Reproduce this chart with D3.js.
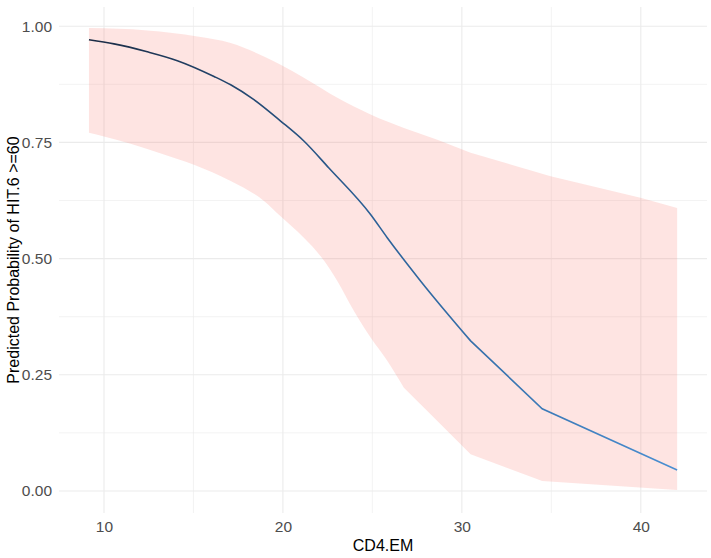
<!DOCTYPE html>
<html><head><meta charset="utf-8">
<script src="https://cdn.jsdelivr.net/npm/d3@7"></script>
<style>body{margin:0;background:#fff;}svg{display:block;font-family:"Liberation Sans",Arial,sans-serif;}</style>
</head><body><svg id="c" width="711" height="558"></svg>
<script>
// Data
const fitX = [9.16,10.56,12.42,14.10,16.15,17.08,18.38,19.87,21.17,22.57,24.90,25.83,27.69,30.49,34.49,42.03];
const fitY = [0.971,0.962,0.945,0.926,0.892,0.874,0.842,0.796,0.753,0.695,0.595,0.545,0.452,0.323,0.177,0.045];
const upperX = [9.16,12.42,15.22,17.08,18.94,19.87,21.17,23.04,24.90,26.76,28.63,30.49,34.96,39.98,42.03];
const upperY = [0.996,0.991,0.978,0.964,0.935,0.917,0.889,0.846,0.810,0.781,0.756,0.728,0.677,0.631,0.609];
const lowerX = [9.16,10.0,11.49,13.35,15.03,17.08,18.94,19.87,21.17,22.11,23.04,23.97,24.90,25.83,26.76,28.25,30.49,34.49,42.03];
const lowerY = [0.771,0.763,0.747,0.724,0.702,0.667,0.624,0.591,0.545,0.505,0.452,0.387,0.330,0.280,0.222,0.165,0.079,0.0215,0.002];
const xTicks = [10,20,30,40];
const xMinor = [15,25,35];
const yTicks = [0,0.25,0.5,0.75,1];
const yMinor = [0.125,0.375,0.625,0.875];
const xTitle = "CD4.EM";
const yTitle = "Predicted Probability of HIT.6 >=60";

const svg = d3.select("#c");
const P = {l:59, r:707, t:7, b:513};
const x = d3.scaleLinear().domain([7.486,43.70]).range([P.l,P.r]);
const y = d3.scaleLinear().domain([-0.0474,1.0414]).range([P.b,P.t]);

const g = svg.append("g");
g.selectAll(".vmin").data(xMinor).join("line").attr("x1",d=>x(d)).attr("x2",d=>x(d)).attr("y1",P.t).attr("y2",P.b).attr("stroke","#EBEBEB").attr("stroke-width",0.6);
g.selectAll(".hmin").data(yMinor).join("line").attr("y1",d=>y(d)).attr("y2",d=>y(d)).attr("x1",P.l).attr("x2",P.r).attr("stroke","#EBEBEB").attr("stroke-width",0.6);
g.selectAll(".vmaj").data(xTicks).join("line").attr("x1",d=>x(d)).attr("x2",d=>x(d)).attr("y1",P.t).attr("y2",P.b).attr("stroke","#EBEBEB").attr("stroke-width",1.1);
g.selectAll(".hmaj").data(yTicks).join("line").attr("y1",d=>y(d)).attr("y2",d=>y(d)).attr("x1",P.l).attr("x2",P.r).attr("stroke","#EBEBEB").attr("stroke-width",1.1);

// ribbon: smooth edges up to x=30.49, straight segments afterwards
const smooth = d3.line().x(d=>x(d[0])).y(d=>y(d[1])).curve(d3.curveMonotoneX);
const upperPts = upperX.map((v,i)=>[v,upperY[i]]);
const lowerPts = lowerX.map((v,i)=>[v,lowerY[i]]);
function edgePath(pts, split){
  const a = pts.filter(d=>d[0]<=split), b = pts.filter(d=>d[0]>=split);
  return smooth(a) + b.slice(1).map(d=>"L"+x(d[0])+","+y(d[1])).join("");
}
function revPath(pts, split){
  const r = pts.slice().reverse();
  const b = r.filter(d=>d[0]>=split), a = r.filter(d=>d[0]<=split);
  const lin = b.map(d=>"L"+x(d[0])+","+y(d[1])).join("");
  const sm = d3.line().x(d=>x(d[0])).y(d=>y(d[1])).curve(d3.curveMonotoneX)(a);
  return lin + "L" + sm.slice(1);
}
svg.append("path").attr("d", edgePath(upperPts,26.76) + revPath(lowerPts,26.76) + "Z")
  .attr("fill","#F8766D").attr("fill-opacity",0.2);

// line with colour gradient
const defs = svg.append("defs");
const grad = defs.append("linearGradient").attr("id","lg").attr("gradientUnits","userSpaceOnUse")
  .attr("x1",x(fitX[0])).attr("x2",x(fitX[fitX.length-1])).attr("y1",0).attr("y2",0);
grad.append("stop").attr("offset","0%").attr("stop-color","#1b2b44");
grad.append("stop").attr("offset","50%").attr("stop-color","#2c6299");
grad.append("stop").attr("offset","100%").attr("stop-color","#4a8fd2");
const fitPts = fitX.map((v,i)=>[v,fitY[i]]);
svg.append("path").attr("d", edgePath(fitPts,30.49))
  .attr("fill","none").attr("stroke","url(#lg)").attr("stroke-width",1.6);

const xa = svg.append("g").attr("transform",`translate(0,${P.b})`).call(d3.axisBottom(x).tickValues(xTicks).tickSize(0).tickPadding(8).tickFormat(d3.format("d")));
xa.select(".domain").remove();
xa.selectAll("text").attr("fill","#4D4D4D").attr("font-size",15.5).attr("font-family","Liberation Sans, Arial, sans-serif");
const ya = svg.append("g").attr("transform",`translate(${P.l},0)`).call(d3.axisLeft(y).tickValues(yTicks).tickSize(0).tickPadding(7).tickFormat(d3.format(".2f")));
ya.select(".domain").remove();
ya.selectAll("text").attr("fill","#4D4D4D").attr("font-size",15.5).attr("font-family","Liberation Sans, Arial, sans-serif");

svg.append("text").attr("x",(P.l+P.r)/2).attr("y",551).attr("text-anchor","middle").attr("font-size",16).attr("fill","#000").text(xTitle);
svg.append("text").attr("transform",`translate(19,${(P.t+P.b)/2}) rotate(-90)`).attr("text-anchor","middle").attr("font-size",16).attr("fill","#000").text(yTitle);
</script></body></html>
